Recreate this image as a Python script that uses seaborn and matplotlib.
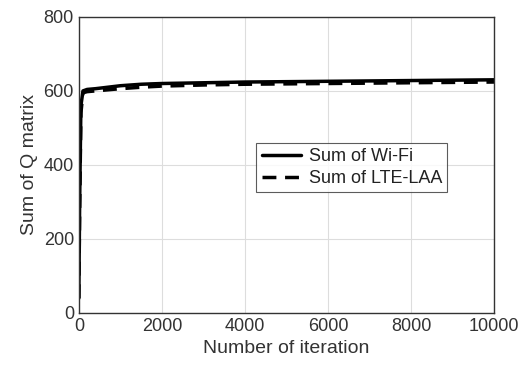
import matplotlib
matplotlib.use("Agg")
import matplotlib.pyplot as plt
import seaborn as sns
import pandas as pd

sns.set_style("whitegrid")
plt.rcParams['font.family'] = ['Liberation Sans', 'DejaVu Sans']

iterations = [0, 20, 50, 100, 200, 400, 700, 1000, 1500, 2000, 3000, 4000, 5000, 6000, 7000, 8000, 9000, 10000]
wifi = [40, 300, 560, 600, 604, 606, 610, 614, 618, 620, 622, 624, 625, 626, 627, 628, 629, 630]
lte = [40, 280, 540, 595, 598, 600, 603, 606, 610, 613, 616, 618, 619, 620, 621, 622, 623, 624]

df = pd.DataFrame({
    "iter": iterations * 2,
    "val": wifi + lte,
    "series": ["Sum of Wi-Fi"] * len(iterations) + ["Sum of LTE-LAA"] * len(iterations),
})

fig = plt.figure(figsize=(5.29, 3.84), dpi=100)
ax = fig.add_axes([0.149, 0.185, 0.785, 0.771])
sns.lineplot(data=df, x="iter", y="val", hue="series", style="series",
             palette=["black", "black"], dashes=[(None, None), (4, 2.5)],
             linewidth=2.5, ax=ax)
ax.set_xlim(0, 10000)
ax.set_ylim(0, 800)
ax.set_xticks([0, 2000, 4000, 6000, 8000, 10000])
ax.set_yticks([0, 200, 400, 600, 800])
ax.grid(True, color="#dddddd", linewidth=0.8)
for s in ax.spines.values():
    s.set_color("#333333")
    s.set_linewidth(1.0)
ax.tick_params(labelsize=13, colors="#333333", length=4, direction="in")
ax.set_xlabel("Number of iteration", fontsize=14, color="#333333")
ax.set_ylabel("Sum of Q matrix", fontsize=14, color="#333333")
leg = ax.legend(loc="upper left", bbox_to_anchor=(0.427, 0.574), fontsize=13,
                frameon=True, fancybox=False, edgecolor="#333333", handlelength=2.2,
                borderpad=0.3, labelspacing=0.25, handletextpad=0.4, borderaxespad=0)
leg.get_frame().set_linewidth(0.8)
for t in leg.get_texts():
    t.set_color("#222222")
fig.savefig("out.png", dpi=100)
